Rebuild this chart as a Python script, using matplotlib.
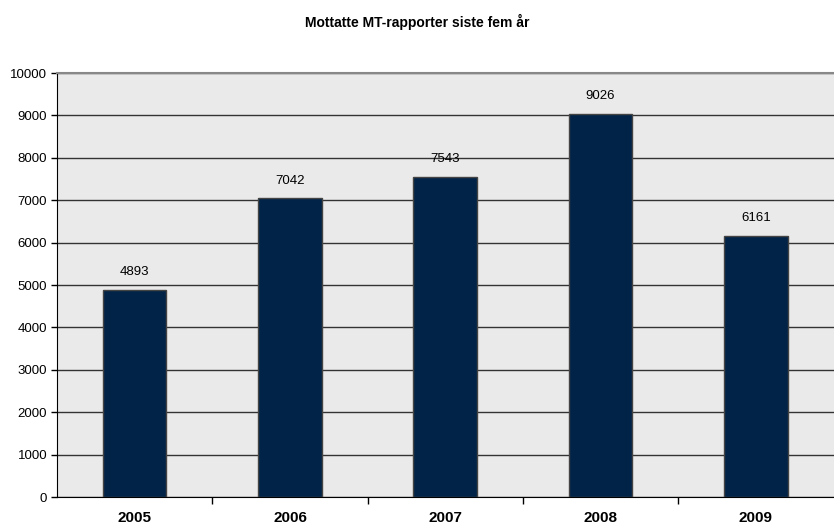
import matplotlib
matplotlib.use("Agg")
import matplotlib.pyplot as plt

years = ["2005", "2006", "2007", "2008", "2009"]
values = [4893, 7042, 7543, 9026, 6161]
yticks = list(range(0, 10001, 1000))

fam = "Liberation Sans"

fig = plt.figure(figsize=(8.34, 5.28), dpi=100)
ax = fig.add_axes([57/834, 1-497/528, 1-57/834-0.5/834, (497-73)/528])
ax.set_facecolor("#eaeaea")

x = list(range(len(years)))
ax.set_axisbelow(True)
ax.yaxis.grid(True, color="#333333", linewidth=1.0)
ax.bar(x, values, width=0.41, color="#002347", edgecolor="#444444", linewidth=1.0, zorder=3)
for xi, v in zip(x, values):
    ax.text(xi, v + 280, str(v), ha="center", va="bottom", fontsize=9.5,
            family=fam, zorder=4)

ax.set_xlim(-0.5, len(years) - 0.5)
ax.set_ylim(0, 10000)
ax.set_yticks(yticks)
ax.set_yticklabels([str(t) for t in yticks], fontsize=9.5, family=fam)
ax.tick_params(axis="y", direction="out", length=4, width=1, pad=3)
ax.set_xticks(x)
ax.set_xticklabels(years, fontsize=11, fontweight="bold", family=fam)
ax.set_xticks([i + 0.5 for i in range(len(years) - 1)], minor=True)
ax.tick_params(axis="x", which="major", length=0, pad=10)
ax.tick_params(axis="x", which="minor", direction="out", length=5, width=1)

ax.spines["right"].set_visible(False)
ax.spines["top"].set_color("#888888")
ax.spines["top"].set_linewidth(1.5)
ax.spines["left"].set_color("black")
ax.spines["bottom"].set_color("black")

fig.text(0.5, 1 - 22/528, "Mottatte MT-rapporter siste fem år", ha="center", va="center",
         fontsize=10, fontweight="bold", family=fam)

fig.savefig("out.png", dpi=100)
